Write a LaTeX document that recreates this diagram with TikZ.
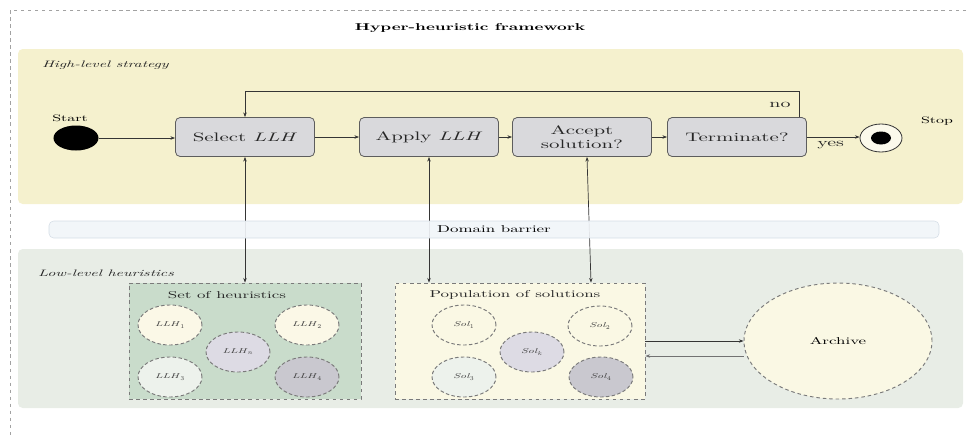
\documentclass[tikz,border=0pt]{standalone}
\usepackage{fontspec}
\setmainfont{lmroman10-regular.otf}[
  BoldFont=lmroman10-bold.otf,
  ItalicFont=lmroman10-italic.otf,
  BoldItalicFont=lmroman10-bolditalic.otf,
  FakeStretch=1.7]
\usetikzlibrary{arrows.meta,positioning,calc,shapes.geometric}
\definecolor{hhhigh}{HTML}{F5F1CE}
\definecolor{hhlow}{HTML}{E8EDE6}
\definecolor{hhbar}{HTML}{F1F5F9}
\definecolor{hhbarline}{HTML}{D6DEE6}
\definecolor{hhbox}{HTML}{D9D9DC}
\definecolor{hhedge}{HTML}{353535}
\definecolor{hhdash}{HTML}{7A7A7A}
\definecolor{hhset}{HTML}{C9DCCB}
\definecolor{hhpop}{HTML}{FAF8E4}
\definecolor{hhcream}{HTML}{FBF8E7}
\definecolor{hhlilac}{HTML}{DDDBE4}
\definecolor{hhmint}{HTML}{EDF2EC}
\definecolor{hhgrey}{HTML}{C9C8CF}

\begin{document}
\begin{tikzpicture}[
  x=0.03cm, y=-0.03cm,
  stepbox/.style={draw=hhedge!80, line width=0.7pt, rounded corners=4pt,
                  fill=hhbox, align=center, inner sep=0pt,
                  minimum width=4.17cm, minimum height=1.17cm,
                  font=\fontsize{10.5}{11.5}\selectfont, text=black!85},
  group/.style={draw=hhdash, dashed, line width=0.7pt, inner sep=0pt,
                minimum height=3.48cm},
  grouplabel/.style={font=\fontsize{8.5}{10}\selectfont, text=black!85},
  item/.style={ellipse, draw=hhdash, dash pattern=on 3pt off 2pt,
               line width=0.8pt, inner sep=0pt,
               minimum width=1.92cm, minimum height=1.2cm,
               font=\fontsize{6}{7}\selectfont, text=black!75},
  panellabel/.style={font=\fontsize{8}{9}\selectfont\itshape, anchor=west,
                     text=black!85},
  edge/.style={-{Stealth[length=4pt]}, hhedge, line width=0.6pt},
  dedge/.style={{Stealth[length=4pt]}-{Stealth[length=4pt]}, hhedge,
                line width=0.6pt},
  tag/.style={font=\fontsize{10}{11}\selectfont, text=black!85},
]
  \useasboundingbox (0,0) rectangle (968,436);

  %% Outer frame and title
  \draw[hhdash!70, dashed, line width=0.6pt] (10,10) rectangle (990,450);
  \node[font=\fontsize{8.5}{10}\selectfont\bfseries] (title) at (470,28)
    {Hyper-heuristic framework};

  %% High-level panel
  \fill[hhhigh, rounded corners=4pt] (18,49) rectangle (963,204);
  \node[panellabel] (hightitle) at (38,65) {High-level strategy};

  %% Start / Stop
  \node[ellipse, fill=black, minimum width=1.35cm, minimum height=0.75cm,
        inner sep=0pt] (start) at (76,138) {};
  \node[font=\fontsize{8}{9}\selectfont] (starttxt) at (70,118) {Start};
  \node[ellipse, draw=hhedge, line width=0.7pt, fill=white!60!hhhigh,
        minimum width=1.26cm, minimum height=0.84cm, inner sep=0pt]
    (stop) at (881,138) {};
  \node[ellipse, fill=black, minimum width=0.6cm, minimum height=0.39cm,
        inner sep=0pt] (stopdot) at (stop.center) {};
  \node[font=\fontsize{8}{9}\selectfont] (stoptxt) at (937,121) {Stop};

  %% Process boxes
  \node[stepbox] (select) at (245,137) {Select \textit{LLH}};
  \node[stepbox] (apply)  at (429,137) {Apply \textit{LLH}};
  \node[stepbox] (accept) at (582,137) {Accept\\solution?};
  \node[stepbox] (term)   at (737,137) {Terminate?};

  %% Main flow
  \draw[edge] (start.east) -- (start.east -| select.west);
  \draw[edge] (select) -- (apply);
  \draw[edge] (apply) -- (accept);
  \draw[edge] (accept) -- (term);
  \draw[edge] (term.east) -- node[tag, below, pos=0.45] {yes}
    (term.east -| stop.west);
  \draw[edge] ([xshift=1.86cm]term.north) -- ++(0,-26) -| (select.north);
  \node[tag] (notxt) at (780,105) {no};

  %% Low-level panel
  \fill[hhlow, rounded corners=4pt] (18,249) rectangle (963,408);
  \node[panellabel] (lowtitle) at (34,273) {Low-level heuristics};

  %% Set of heuristics
  \node[group, fill=hhset, minimum width=6.96cm] (setbox) at (245,341) {};
  \node[grouplabel] (settxt) at (227,295) {Set of heuristics};
  \node[item, fill=hhcream] (llh1) at (170,325) {\textit{LLH}$_1$};
  \node[item, fill=hhcream] (llh2) at (307,325) {\textit{LLH}$_2$};
  \node[item, fill=hhlilac] (llhn) at (238,352) {\textit{LLH}$_n$};
  \node[item, fill=hhmint]  (llh3) at (170,377) {\textit{LLH}$_3$};
  \node[item, fill=hhgrey]  (llh4) at (307,377) {\textit{LLH}$_4$};

  %% Population of solutions
  \node[group, fill=hhpop, minimum width=7.5cm] (popbox) at (520,341) {};
  \node[grouplabel] (poptxt) at (515,295) {Population of solutions};
  \node[item, fill=hhpop]   (sol1) at (464,325) {\textit{Sol}$_1$};
  \node[item, fill=hhpop]   (sol2) at (600,326) {\textit{Sol}$_2$};
  \node[item, fill=hhlilac] (solk) at (532,352) {\textit{Sol}$_k$};
  \node[item, fill=hhmint]  (sol3) at (464,377) {\textit{Sol}$_3$};
  \node[item, fill=hhgrey]  (sol4) at (601,377) {\textit{Sol}$_4$};

  %% Archive
  \node[ellipse, draw=hhdash, dash pattern=on 3pt off 2.5pt, line width=0.8pt,
        fill=hhpop, minimum width=5.64cm, minimum height=3.48cm,
        font=\fontsize{8.5}{10}\selectfont] (archive) at (838,341) {Archive};
  \draw[edge] (popbox.east) -- (archive.west);
  \draw[edge, hhedge!70] ([yshift=-0.45cm]archive.west)
    -- ([yshift=-0.45cm]popbox.east);

  %% Links across the domain barrier
  \draw[dedge] (select.south) -- (select.south |- setbox.north);
  \draw[dedge] (apply.south) -- (apply.south |- popbox.north);
  \draw[dedge] ([xshift=0.15cm]accept.south) -- ([xshift=2.13cm]popbox.north);

  %% Domain barrier (drawn over the links)
  \node[draw=hhbarline, fill=hhbar, fill opacity=0.92, text opacity=1,
        rounded corners=4pt, line width=0.5pt,
        minimum width=26.7cm, minimum height=0.51cm, inner sep=0pt,
        font=\fontsize{8.5}{10}\selectfont] (barrier) at (494,229.5)
    {Domain barrier};

\end{tikzpicture}
\end{document}
